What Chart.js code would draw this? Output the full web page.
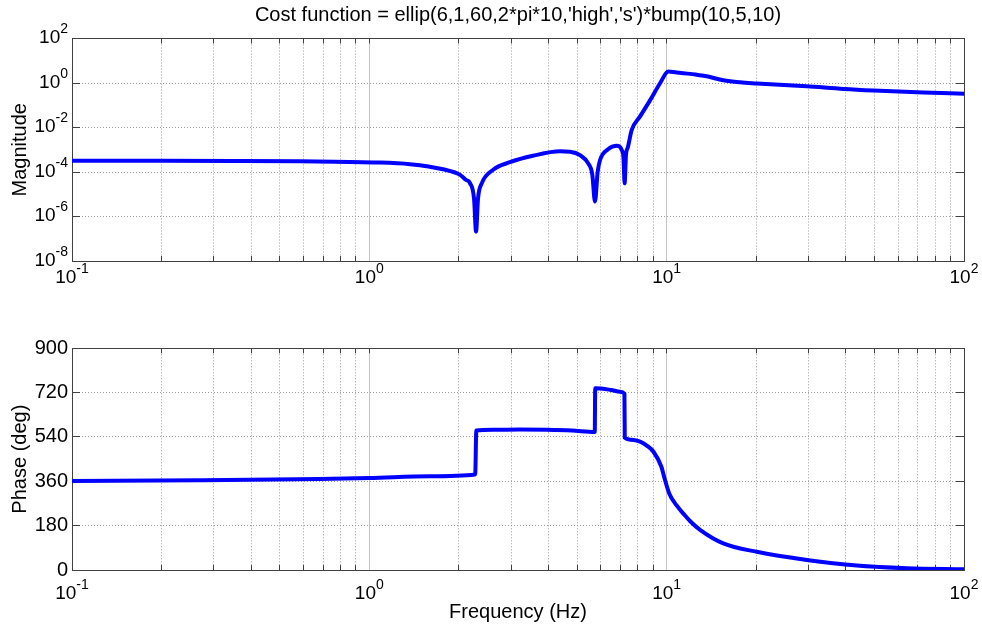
<!DOCTYPE html>
<html>
<head>
<meta charset="utf-8">
<script src="https://cdn.jsdelivr.net/npm/chart.js@4"></script>
<style>
  html, body { margin: 0; padding: 0; background: #fff; }
  #wrap { position: relative; width: 982px; height: 627px; background: #fff; }
  canvas { position: absolute; left: 0; }
</style>
</head>
<body>
<div id="wrap">
  <canvas id="magCanvas" width="982" height="300" style="top:0"></canvas>
  <canvas id="phaseCanvas" width="982" height="327" style="top:300px"></canvas>
</div>
<script>
// ---------- data ----------
const chartTitle = "Cost function = ellip(6,1,60,2*pi*10,'high','s')*bump(10,5,10)";

const freqMag = [0.1, 0.2, 0.35, 0.585, 1.03, 1.37, 1.77, 2.02, 2.11, 2.18, 2.25, 2.285, 2.32, 2.39,
  2.61, 2.97, 3.55, 4.38, 4.73, 5.11, 5.44, 5.62, 5.74, 5.86, 5.97, 6.35, 6.80, 7.06, 7.16, 7.22,
  7.30, 7.40, 7.63, 8.14, 8.79, 9.50, 10.13, 10.8, 12.0, 12.62, 13.64, 15.51, 17.65, 20.09, 29.6,
  39.4, 49.6, 73.0, 100];
const magnitude = [3.24e-4, 3.24e-4, 3.16e-4, 3.02e-4, 2.70e-4, 2.24e-4, 1.32e-4, 7.41e-5, 4.47e-5, 3.16e-5,
  6.31e-6, 2.09e-7, 6.31e-6, 3.16e-5, 1.26e-4, 2.75e-4, 5.37e-4, 8.51e-4, 8.13e-4, 5.75e-4, 2.51e-4,
  7.94e-5, 4.68e-6, 1.0e-4, 3.47e-4, 1.05e-3, 1.51e-3, 9.77e-4, 3.98e-4, 3.09e-5, 6.31e-4, 1.26e-3,
  7.76e-3, 3.16e-2, 0.166, 0.977, 3.31, 2.95, 2.57, 2.34, 2.0, 1.32, 1.07, 0.955, 0.708, 0.537,
  0.457, 0.372, 0.331];

const freqPhase = [0.1, 0.27, 0.68, 1.0, 1.6, 2.27, 2.29, 2.6, 3.2, 3.95, 4.8, 5.73, 5.75, 6.5, 6.97,
  7.21, 7.23, 7.73, 8.14, 8.57, 9.03, 9.6, 9.8, 10.2, 10.8, 11.4, 12.0, 12.95, 15.5, 20.1, 29.6,
  43.6, 64.2, 100];
const phaseDeg = [361, 364, 369, 373, 381, 388, 566, 569, 570, 569, 566, 560, 738, 731, 724, 716, 537,
  528, 521, 505, 480, 419, 379, 311, 262, 228, 198, 163, 108, 74, 41, 18, 7, 3];

// ---------- ticks ----------
const freqMajorTicks = [0.1, 1, 10, 100];
const freqTickExps = ['-1', '0', '1', '2'];
const freqMinorTicks = [0.2, 0.3, 0.4, 0.5, 0.6, 0.7, 0.8, 0.9, 2, 3, 4, 5, 6, 7, 8, 9,
  20, 30, 40, 50, 60, 70, 80, 90];
const magTicks = [1e-8, 1e-6, 1e-4, 1e-2, 1, 100];
const magTickExps = ['-8', '-6', '-4', '-2', '0', '2'];
const phaseTicks = [0, 180, 360, 540, 720, 900];

// ---------- style ----------
const FONT = '"Liberation Sans", Arial, Helvetica, sans-serif';
const AXIS_COLOR = '#404040';
const DOT_GRID = '#9a9a9a';
const MAJOR_GRID = '#c4c4c4';
const LINE_COLOR = '#0000ff';
const NONE = 'rgba(0,0,0,0)';

const allFreqTicks = freqMajorTicks.concat(freqMinorTicks).sort((a, b) => a - b);
const isMajorFreq = v => freqMajorTicks.some(m => Math.abs(m - v) < 1e-9);

function setFreqTicks(axis) {
  axis.ticks = allFreqTicks.map(v => ({ value: v, major: isMajorFreq(v) }));
}

function drawPow(ctx, exp, x, y, align) {
  const bigFont = '19px ' + FONT, smallFont = '14px ' + FONT;
  ctx.font = bigFont;
  const w1 = ctx.measureText('10').width;
  ctx.font = smallFont;
  const w2 = ctx.measureText(exp).width;
  const x0 = align === 'center' ? x - (w1 + w2) / 2 : x - (w1 + w2);
  ctx.textAlign = 'left';
  ctx.textBaseline = 'alphabetic';
  ctx.font = bigFont;
  ctx.fillText('10', x0, y);
  ctx.font = smallFont;
  ctx.fillText(exp, x0 + w1, y - 10);
}

const powerLabels = {
  id: 'powerLabels',
  afterDraw(chart, args, opts) {
    const ctx = chart.ctx;
    ctx.save();
    ctx.fillStyle = '#000';
    const xs = chart.scales.x;
    freqMajorTicks.forEach((v, i) => {
      drawPow(ctx, freqTickExps[i], xs.getPixelForValue(v), xs.top + opts.xBaseline, 'center');
    });
    if (opts.yTicks) {
      const ys = chart.scales.y;
      opts.yTicks.forEach((v, i) => {
        drawPow(ctx, opts.yExps[i], ys.right - 4, ys.getPixelForValue(v) + 4.5, 'right');
      });
    }
    ctx.restore();
  }
};

function xAxes(topHeight, bottomHeight, topTitle, bottomTitle) {
  return {
    x: {
      type: 'logarithmic', position: 'bottom', min: 0.1, max: 100,
      afterBuildTicks: setFreqTicks,
      afterFit: s => { s.height = bottomHeight; },
      ticks: { display: false, autoSkip: false },
      title: bottomTitle ? { display: true, text: bottomTitle, color: '#000',
        font: { family: FONT, size: 20 }, padding: { top: 0, bottom: 3 } } : { display: false },
      grid: { color: c => (c.tick && isMajorFreq(c.tick.value)) ? NONE : DOT_GRID,
        lineWidth: 1, tickLength: -5, tickColor: AXIS_COLOR, tickWidth: 1 },
      border: { color: AXIS_COLOR, width: 1, dash: [1, 2] }
    },
    x2: {
      type: 'logarithmic', position: 'top', min: 0.1, max: 100,
      afterBuildTicks: setFreqTicks,
      afterFit: s => { s.height = topHeight; },
      ticks: { display: false, autoSkip: false },
      title: topTitle ? { display: true, text: topTitle, color: '#000',
        font: { family: FONT, size: 20 }, padding: { top: 3, bottom: 0 } } : { display: false },
      grid: { color: c => (c.tick && isMajorFreq(c.tick.value)) ? MAJOR_GRID : NONE,
        lineWidth: 1, tickLength: -5, tickColor: AXIS_COLOR, tickWidth: 1 },
      border: { color: AXIS_COLOR, width: 1 }
    }
  };
}

const baseOptions = {
  responsive: false,
  devicePixelRatio: 1,
  animation: false,
  layout: { padding: 0 },
  elements: { point: { radius: 0 } }
};

// ---------- magnitude chart ----------
new Chart(document.getElementById('magCanvas'), {
  type: 'line',
  data: {
    datasets: [{
      data: freqMag.map((f, i) => ({ x: f, y: magnitude[i] })),
      borderColor: LINE_COLOR, borderWidth: 4, cubicInterpolationMode: 'monotone',
      borderJoinStyle: 'round', borderCapStyle: 'round', fill: false
    }]
  },
  options: Object.assign({}, baseOptions, {
    plugins: {
      legend: { display: false }, tooltip: { enabled: false }, title: { display: false },
      powerLabels: { xBaseline: 22, yTicks: magTicks, yExps: magTickExps }
    },
    scales: Object.assign(xAxes(38.5, 39, chartTitle, null), {
      y: {
        type: 'logarithmic', position: 'left', min: 1e-8, max: 100,
        afterBuildTicks: a => { a.ticks = magTicks.map(v => ({ value: v, major: true })); },
        afterFit: s => { s.width = 72; },
        ticks: { display: false, autoSkip: false },
        title: { display: true, text: 'Magnitude', color: '#000',
          font: { family: FONT, size: 20 }, padding: { top: 8, bottom: 0 } },
        grid: { color: DOT_GRID, lineWidth: 1, tickLength: -8, tickColor: AXIS_COLOR },
        border: { color: AXIS_COLOR, width: 1, dash: [1, 2] }
      },
      y2: {
        type: 'logarithmic', position: 'right', min: 1e-8, max: 100,
        afterBuildTicks: a => { a.ticks = magTicks.map(v => ({ value: v, major: true })); },
        afterFit: s => { s.width = 18; },
        ticks: { display: false },
        grid: { drawOnChartArea: false, tickLength: -8, tickColor: AXIS_COLOR },
        border: { color: AXIS_COLOR, width: 1 }
      }
    })
  }),
  plugins: [powerLabels]
});

// ---------- phase chart ----------
new Chart(document.getElementById('phaseCanvas'), {
  type: 'line',
  data: {
    datasets: [{
      data: freqPhase.map((f, i) => ({ x: f, y: phaseDeg[i] })),
      borderColor: LINE_COLOR, borderWidth: 4, cubicInterpolationMode: 'monotone',
      borderJoinStyle: 'round', borderCapStyle: 'round', fill: false
    }]
  },
  options: Object.assign({}, baseOptions, {
    plugins: {
      legend: { display: false }, tooltip: { enabled: false }, title: { display: false },
      powerLabels: { xBaseline: 28.5 }
    },
    scales: Object.assign(xAxes(48.3, 57, null, 'Frequency (Hz)'), {
      y: {
        type: 'linear', position: 'left', min: 0, max: 900,
        afterBuildTicks: a => { a.ticks = phaseTicks.map(v => ({ value: v })); },
        afterFit: s => { s.width = 72; },
        ticks: { color: '#000', font: { family: FONT, size: 20 }, padding: 12, autoSkip: false },
        title: { display: true, text: 'Phase (deg)', color: '#000',
          font: { family: FONT, size: 20 }, padding: { top: 8, bottom: 0 } },
        grid: { color: DOT_GRID, lineWidth: 1, tickLength: -8, tickColor: AXIS_COLOR },
        border: { color: AXIS_COLOR, width: 1, dash: [1, 2] }
      },
      y2: {
        type: 'linear', position: 'right', min: 0, max: 900,
        afterBuildTicks: a => { a.ticks = phaseTicks.map(v => ({ value: v })); },
        afterFit: s => { s.width = 18; },
        ticks: { display: false },
        grid: { drawOnChartArea: false, tickLength: -8, tickColor: AXIS_COLOR },
        border: { color: AXIS_COLOR, width: 1 }
      }
    })
  }),
  plugins: [powerLabels]
});
</script>
</body>
</html>
